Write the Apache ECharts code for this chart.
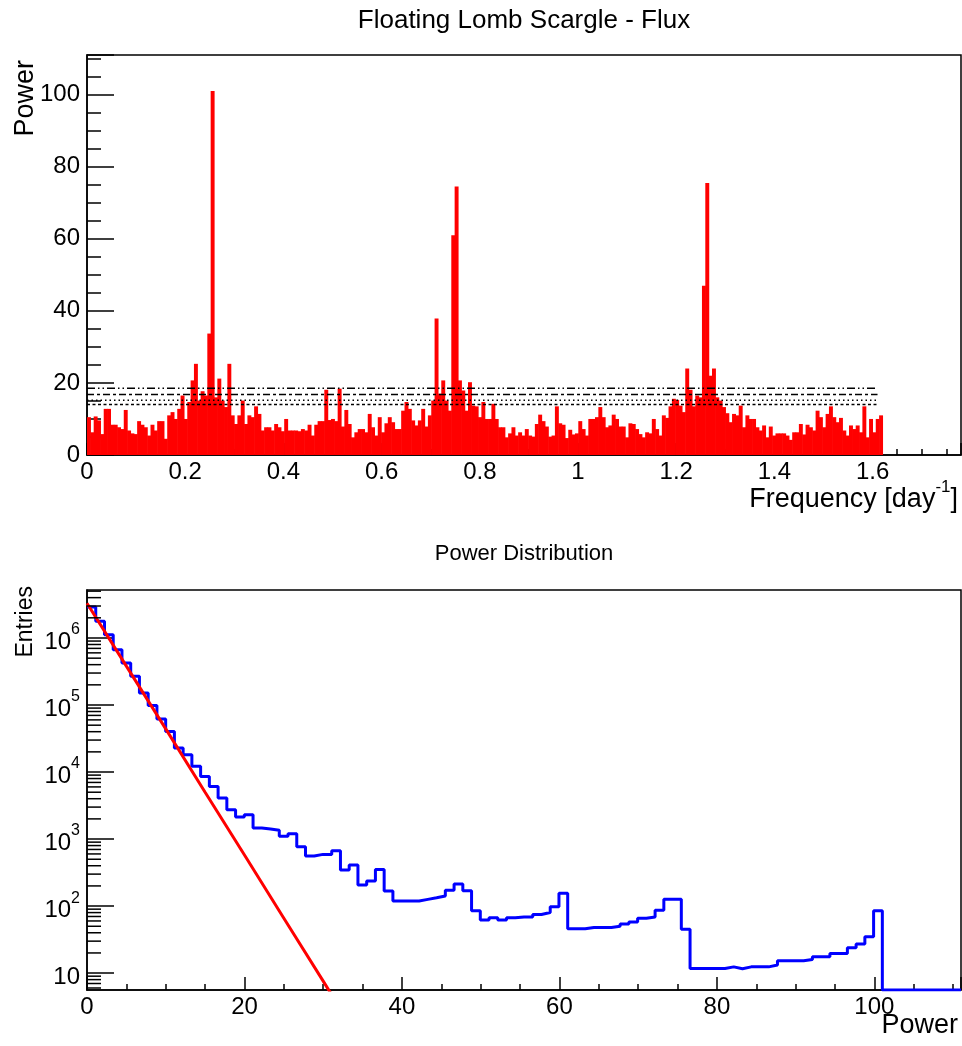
<!DOCTYPE html>
<html>
<head>
<meta charset="utf-8">
<script src="https://cdn.jsdelivr.net/npm/echarts@6/dist/echarts.min.js"></script>
<style>
html,body{margin:0;padding:0;background:#fff;}
#chart{width:962px;height:1046px;}
</style>
</head>
<body>
<div id="chart"></div>
<script>
// ---------------- data ----------------
// Top panel: Lomb-Scargle power per frequency bin (bins span 0 .. FREQ_HIST_MAX)
const FREQ_HIST_MAX = 1.62;
const FREQ_POWER = [
  10.5, 6.3, 10.7, 9.6, 5.8, 12.8, 12.8, 8.4, 8.4, 7.7,
  7.2, 12.5, 6.8, 6.0, 5.8, 9.4, 8.4, 7.7, 5.4, 8.4,
  6.8, 9.4, 9.4, 4.5, 11.0, 11.9, 10.0, 12.8, 16.5, 10.0,
  14.7, 20.7, 25.3, 15.1, 17.7, 16.5, 33.7, 101.0, 16.0, 21.2,
  15.1, 13.3, 25.3, 11.0, 8.6, 11.0, 15.1, 8.6, 11.0, 10.5,
  13.5, 11.4, 6.8, 7.7, 7.7, 6.8, 8.6, 7.7, 6.6, 10.0,
  6.8, 6.8,
  6.8, 6.6, 7.2, 6.8, 8.4, 5.4, 8.4, 9.4, 9.4, 18.1,
  9.7, 10.0, 9.4, 18.4, 7.9, 12.5, 8.6, 4.9, 6.3, 7.2,
  7.2, 6.3, 11.4, 7.7, 5.4, 10.5, 6.3, 8.8, 10.5, 9.1,
  7.2, 7.2, 12.3, 14.7, 12.8, 9.6, 8.2, 9.6, 12.8, 7.9,
  11.0, 15.1, 37.9, 17.0, 20.7, 15.1, 12.3, 61.0, 74.5, 20.7,
  17.9, 12.3, 20.2, 13.7, 13.5, 10.5, 14.7, 10.0, 10.0, 14.2,
  10.0, 7.7,
  7.7, 4.9, 6.0, 7.7, 5.4, 6.3, 5.4, 7.2, 5.4, 5.1,
  8.6, 11.2, 9.4, 7.9, 5.1, 5.4, 13.5, 8.8, 8.4, 4.7,
  7.0, 5.7, 6.0, 9.4, 7.2, 5.4, 10.0, 10.0, 10.5, 13.3,
  10.5, 7.7, 8.2, 11.2, 10.0, 7.9, 7.9, 4.9, 8.8, 8.6,
  7.2, 5.8, 4.9, 6.3, 6.0, 10.0, 7.2, 5.4, 11.0, 10.3,
  13.5, 15.6, 15.3, 13.7, 11.9, 24.0, 18.1, 13.5, 16.5, 16.0,
  47.0,
  75.5, 22.0, 24.0, 16.0, 15.1, 13.3, 11.6, 9.1, 11.4, 11.0,
  13.7, 7.7, 11.0, 10.0, 10.0, 7.7, 6.8, 8.2, 4.9, 7.9,
  5.4, 6.0, 6.0, 6.0, 5.4, 4.2, 6.3, 6.3, 8.6, 5.7,
  8.4, 7.7, 6.8, 12.3, 10.5, 7.7, 11.4, 13.5, 10.5, 9.1,
  10.3, 6.8, 5.4, 8.2, 7.2, 8.2, 6.3, 13.5, 4.9, 10.0,
  6.3, 10.0, 11.0
];
// significance threshold levels (power)
const THRESHOLDS = [18.5, 16.8, 15.2, 14.0];
const THRESHOLD_END = 1.61;

// Bottom panel: distribution of power values (100 bins of width 1.11)
const POWER_BIN_WIDTH = 1.11;
const POWER_COUNTS = [
  2.9e6, 1.77e6, 1.12e6, 6.7e5, 4.24e5, 2.68e5, 1.51e5, 9.8e4, 6.2e4, 4.04e4,
  2.28e4, 1.81e4, 1.22e4, 8.6e3, 6.1e3, 4.1e3, 2.74e3, 2.13e3, 2.3e3, 1.46e3,
  1.41e3, 1.35e3, 1.1e3, 1.2e3, 770, 558, 591, 591, 670, 345,
  410, 206, 236, 353, 168, 119, 119, 119, 126, 133,
  141, 173, 213, 170, 85, 62, 67, 62, 67, 69,
  69, 75, 80, 98, 155, 46, 46, 48, 48, 48,
  50, 54, 58, 66, 69, 87, 126, 126, 45, 11.7,
  11.7, 11.7, 11.7, 12.4, 11.6, 12.4, 12.4, 12.4, 13.2, 15.3,
  15.3, 15.3, 16.0, 17.5, 17.5, 19.7, 19.7, 23.9, 27.1, 34.9,
  85, 0, 0, 0, 0, 0, 0, 0, 0, 0
];
// exponential fit (red curve) sampled points
const FIT_X = [0, 5, 10, 15, 20, 25, 30, 31];
const FIT_Y = [3.3e6, 3.8e5, 4.4e4, 5.0e3, 5.8e2, 66, 7.6, 4.9];

// axis ranges
const TOP_X_MAX = 1.78, TOP_Y_MAX = 111;
const BOT_X_MAX = 111, BOT_Y_MIN = 5.6, BOT_Y_MAX = 5.2e6;

// ---------------- build ----------------
const FONT = '"Liberation Sans", Arial, Helvetica, sans-serif';
const binW = FREQ_HIST_MAX / FREQ_POWER.length;
const topHist = FREQ_POWER.map((v, i) => [i * binW, (i + 1) * binW, v]);

const blueData = POWER_COUNTS.map((c, i) => [i * POWER_BIN_WIDTH, c > 0 ? c : BOT_Y_MIN]);
blueData.push([POWER_COUNTS.length * POWER_BIN_WIDTH, blueData[blueData.length - 1][1]]);
const fitData = FIT_X.map((x, i) => [x, FIT_Y[i]]);

const logMinor = [];
for (let n = 0; n <= 7; n++) for (let k = 2; k <= 9; k++) {
  const v = k * Math.pow(10, n);
  if (v > BOT_Y_MIN && v < BOT_Y_MAX) logMinor.push([0, v]);
}

const DASHES = [[8, 3, 1.5, 3, 1.5, 3], [7, 3, 3, 3], [1.5, 3], [3, 2.5]];

const axisLine = { show: true, lineStyle: { color: '#000', width: 1.5 } };
const lbl = { color: '#000', fontSize: 24, fontFamily: FONT };

const chart = echarts.init(document.getElementById('chart'), null, { renderer: 'canvas' });
chart.setOption({
  animation: false,
  backgroundColor: '#fff',
  grid: [
    { left: 87, top: 55, width: 874, height: 400, show: true, borderColor: '#000', borderWidth: 1.5, backgroundColor: 'transparent', outerBoundsMode: 'none' },
    { left: 87, top: 590, width: 874, height: 400, show: true, borderColor: '#000', borderWidth: 1.5, backgroundColor: 'transparent', outerBoundsMode: 'none' }
  ],
  xAxis: [
    { gridIndex: 0, type: 'value', min: 0, max: TOP_X_MAX, interval: 0.2,
      axisLine, splitLine: { show: false },
      axisTick: { inside: true, length: 12, lineStyle: { color: '#000', width: 1.5 } },
      minorTick: { show: true, splitNumber: 4, length: 6, lineStyle: { color: '#000', width: 1.5 } },
      axisLabel: Object.assign({ margin: 5, showMaxLabel: false }, lbl) },
    { gridIndex: 1, type: 'value', min: 0, max: BOT_X_MAX, interval: 20,
      axisLine, splitLine: { show: false },
      axisTick: { inside: true, length: 13, lineStyle: { color: '#000', width: 1.5 } },
      minorTick: { show: true, splitNumber: 4, length: 6, lineStyle: { color: '#000', width: 1.5 } },
      axisLabel: Object.assign({ margin: 5, showMaxLabel: false }, lbl) }
  ],
  yAxis: [
    { gridIndex: 0, type: 'value', min: 0, max: TOP_Y_MAX, interval: 20,
      axisLine, splitLine: { show: false },
      axisTick: { inside: true, length: 27, lineStyle: { color: '#000', width: 1.5 } },
      minorTick: { show: true, splitNumber: 4, length: 14, lineStyle: { color: '#000', width: 1.5 } },
      axisLabel: Object.assign({ margin: 7, showMaxLabel: false }, lbl) },
    { gridIndex: 1, type: 'log', logBase: 10, min: BOT_Y_MIN, max: BOT_Y_MAX,
      axisLine, splitLine: { show: false },
      axisTick: { inside: true, length: 27, lineStyle: { color: '#000', width: 1.5 } },
      minorTick: { show: false },
      axisLabel: {
        margin: 7, showMinLabel: false, showMaxLabel: false,
        formatter: v => {
          const e = Math.log10(v), r = Math.round(e);
          if (Math.abs(e - r) > 1e-6) return '';
          return r === 1 ? '{b|10}' : '{b|10}{s|' + r + '}';
        },
        rich: {
          b: { fontSize: 24, fontFamily: FONT, color: '#000', verticalAlign: 'bottom', lineHeight: 32 },
          s: { fontSize: 16, fontFamily: FONT, color: '#000', verticalAlign: 'top', lineHeight: 32 }
        }
      } }
  ],
  series: [
    { type: 'custom', xAxisIndex: 0, yAxisIndex: 0, data: topHist, encode: { x: [0, 1], y: 2 }, clip: true, z: 2,
      renderItem: (p, api) => {
        const a = api.coord([api.value(0), api.value(2)]);
        const b = api.coord([api.value(1), 0]);
        return { type: 'rect', shape: { x: a[0], y: a[1], width: b[0] - a[0] + 0.6, height: b[1] - a[1] },
                 style: { fill: '#ff0000' } };
      } },
    ...THRESHOLDS.map((t, i) => ({
      type: 'line', xAxisIndex: 0, yAxisIndex: 0, data: [[0, t], [THRESHOLD_END, t]],
      symbol: 'none', silent: true, z: 4,
      lineStyle: { color: '#000', width: 1.5, type: DASHES[i] }
    })),
    { type: 'line', xAxisIndex: 1, yAxisIndex: 1, data: blueData, step: 'end', symbol: 'none', z: 3,
      lineStyle: { color: '#0000ff', width: 3 } },
    { type: 'line', xAxisIndex: 1, yAxisIndex: 1, data: fitData, symbol: 'none', z: 4,
      lineStyle: { color: '#ff0000', width: 3 } },
    { type: 'custom', xAxisIndex: 1, yAxisIndex: 1, data: logMinor, encode: { x: 0, y: 1 }, silent: true, z: 5,
      renderItem: (p, api) => {
        const c = api.coord([0, api.value(1)]);
        return { type: 'line', shape: { x1: c[0], y1: c[1], x2: c[0] + 14, y2: c[1] },
                 style: { stroke: '#000', lineWidth: 1.5 } };
      } }
  ],
  graphic: [
    { type: 'text', x: 524, y: 21, style: { text: 'Floating Lomb Scargle - Flux', font: '26px ' + FONT, fill: '#000', align: 'center', verticalAlign: 'middle' } },
    { type: 'text', x: 524, y: 554, style: { text: 'Power Distribution', font: '22px ' + FONT, fill: '#000', align: 'center', verticalAlign: 'middle' } },
    { type: 'text', x: 26, y: 60, rotation: Math.PI / 2, style: { text: 'Power', font: '27px ' + FONT, fill: '#000', align: 'right', verticalAlign: 'middle' } },
    { type: 'text', x: 958, y: 496, style: {
        text: '{b|Frequency [day}{s|-1}{b|]}', fill: '#000', align: 'right', verticalAlign: 'middle',
        rich: { b: { font: '27px ' + FONT, fill: '#000', lineHeight: 34, verticalAlign: 'bottom' },
                s: { font: '17px ' + FONT, fill: '#000', lineHeight: 34, verticalAlign: 'top' } } } },
    { type: 'text', x: 26, y: 586, rotation: Math.PI / 2, style: { text: 'Entries', font: '23px ' + FONT, fill: '#000', align: 'right', verticalAlign: 'middle' } },
    { type: 'text', x: 958, y: 1026, style: { text: 'Power', font: '27px ' + FONT, fill: '#000', align: 'right', verticalAlign: 'middle' } }
  ]
});
</script>
</body>
</html>
